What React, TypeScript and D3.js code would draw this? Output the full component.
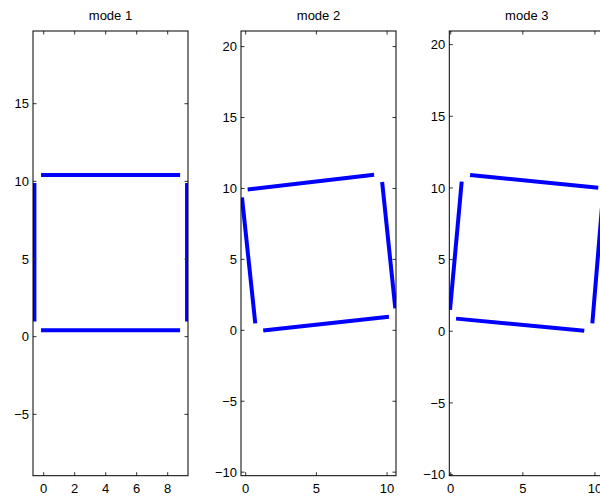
import React from "react";
import * as d3 from "d3";

// ---------- data ----------
type Seg = [[number, number], [number, number]];

const titles = ["mode 1", "mode 2", "mode 3"];

const mode1Segments: Seg[] = [
  [[-0.17, 10.41], [8.8, 10.41]],
  [[-0.17, 0.41], [8.8, 0.41]],
  [[-0.6, 0.98], [-0.6, 9.9]],
  [[9.25, 0.98], [9.25, 9.9]],
];

const mode2Segments: Seg[] = [
  [[0.14, 9.93], [9.08, 10.96]],
  [[9.65, 10.46], [10.58, 1.55]],
  [[1.24, -0.02], [10.13, 0.96]],
  [[-0.26, 9.37], [0.68, 0.49]],
];

const mode3Segments: Seg[] = [
  [[-0.05, 1.49], [0.76, 10.44]],
  [[1.34, 10.9], [10.23, 10.02]],
  [[0.37, 0.88], [9.26, 0.04]],
  [[9.82, 0.55], [10.55, 9.4]],
];

const mode1XTicks = [0, 2, 4, 6, 8];
const mode1YTicks = [-5, 0, 5, 10, 15];
const mode2XTicks = [0, 5, 10];
const mode2YTicks = [-10, -5, 0, 5, 10, 15, 20];
const mode3XTicks = [0, 5, 10];
const mode3YTicks = [-10, -5, 0, 5, 10, 15, 20];

const xDomains: [number, number][] = [
  [-0.69, 9.31],
  [-0.33, 10.63],
  [-0.1, 10.65],
];
const yDomains: [number, number][] = [
  [-8.95, 19.68],
  [-10.25, 21.1],
  [-10.08, 20.95],
];

// ---------- layout ----------
const W = 600;
const H = 498;
const axLefts = [33, 241, 449.3];
const axWidth = 155;
const axTop = 31;
const axBottom = 475.7;
const tickLen = 3.5;
const font = "'Liberation Sans', Arial, Helvetica, sans-serif";

const fmt = (v: number) => (v < 0 ? "\u2212" + Math.abs(v) : String(v));

const panels = [
  { segs: mode1Segments, xt: mode1XTicks, yt: mode1YTicks },
  { segs: mode2Segments, xt: mode2XTicks, yt: mode2YTicks },
  { segs: mode3Segments, xt: mode3XTicks, yt: mode3YTicks },
];

export default function App() {
  return (
    <svg
      width={W}
      height={H}
      style={{ position: "absolute", left: 0, top: 0, background: "#fff" }}
      fontFamily={font}
    >
      <rect x={0} y={0} width={W} height={H} fill="#fff" />
      {panels.map((p, i) => {
        const left = axLefts[i];
        const right = left + axWidth;
        const x = d3.scaleLinear().domain(xDomains[i]).range([left, right]);
        const y = d3.scaleLinear().domain(yDomains[i]).range([axBottom, axTop]);
        const clipId = `clip${i}`;
        return (
          <g key={i}>
            <defs>
              <clipPath id={clipId}>
                <rect x={left} y={axTop} width={axWidth} height={axBottom - axTop} />
              </clipPath>
            </defs>
            <text
              x={(left + right) / 2}
              y={20}
              textAnchor="middle"
              fontSize={13}
              fill="#000"
            >
              {titles[i]}
            </text>
            <g clipPath={`url(#${clipId})`}>
              {p.segs.map((s, j) => (
                <line
                  key={j}
                  x1={x(s[0][0])}
                  y1={y(s[0][1])}
                  x2={x(s[1][0])}
                  y2={y(s[1][1])}
                  stroke="#0000ff"
                  strokeWidth={4}
                  strokeLinecap="butt"
                />
              ))}
            </g>
            {/* ticks */}
            {p.xt.map((t) => (
              <g key={"x" + t}>
                <line x1={x(t)} x2={x(t)} y1={axBottom} y2={axBottom - tickLen} stroke="#333" strokeWidth={1} />
                <line x1={x(t)} x2={x(t)} y1={axTop} y2={axTop + tickLen} stroke="#333" strokeWidth={1} />
                <text x={x(t)} y={492.5} textAnchor="middle" fontSize={13} fill="#000">
                  {fmt(t)}
                </text>
              </g>
            ))}
            {p.yt.map((t) => (
              <g key={"y" + t}>
                <line x1={left} x2={left + tickLen} y1={y(t)} y2={y(t)} stroke="#333" strokeWidth={1} />
                <line x1={right} x2={right - tickLen} y1={y(t)} y2={y(t)} stroke="#333" strokeWidth={1} />
                <text x={left - 4} y={y(t)} dy="0.36em" textAnchor="end" fontSize={13} fill="#000">
                  {fmt(t)}
                </text>
              </g>
            ))}
            <rect
              x={left}
              y={axTop}
              width={axWidth}
              height={axBottom - axTop}
              fill="none"
              stroke="#000"
              strokeWidth={1}
            />
          </g>
        );
      })}
    </svg>
  );
}
